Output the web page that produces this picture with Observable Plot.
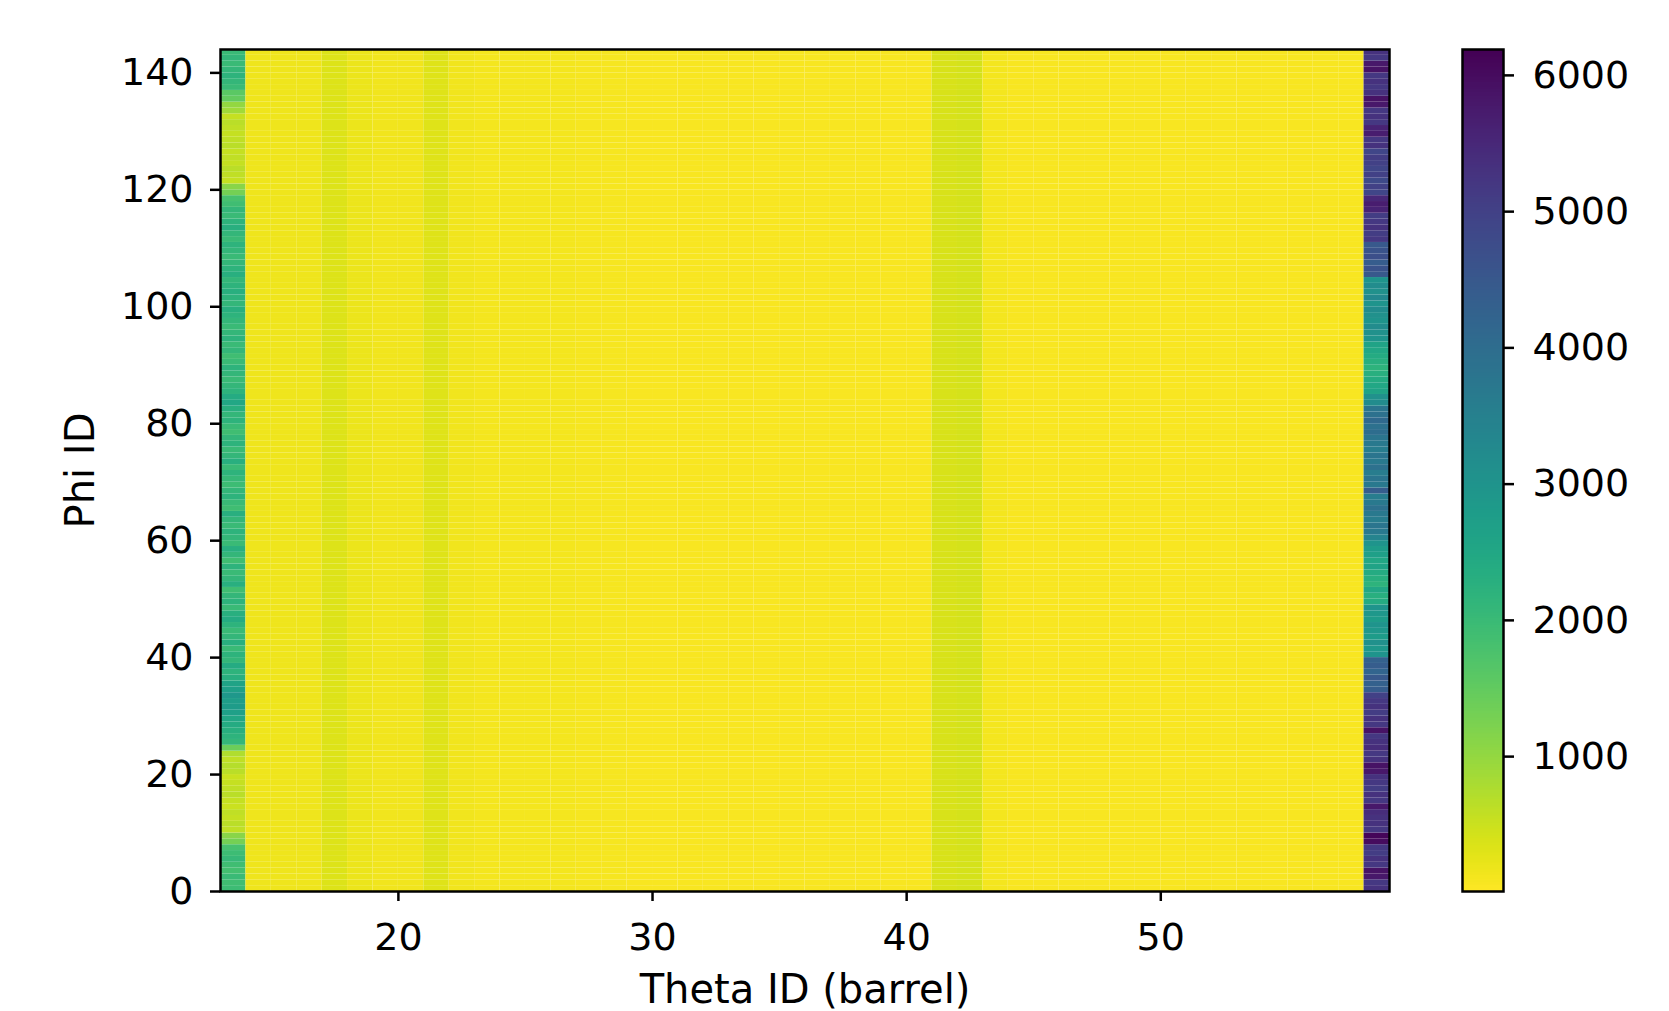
<!DOCTYPE html>
<html>
<head>
<meta charset="utf-8">
<script src="https://cdn.jsdelivr.net/npm/d3@7"></script>
<script src="https://cdn.jsdelivr.net/npm/@observablehq/plot@0.6"></script>
<style>
  html, body { margin: 0; padding: 0; background: #fff; }
  #wrap { position: relative; width: 1669px; height: 1011px; overflow: hidden; background: #fff; }
  #wrap svg { position: absolute; top: 0; }
</style>
</head>
<body>
<div id="wrap"></div>
<script>
// ---- data ----
// Phi IDs (rows) 0..143
const phiIds = d3.range(0, 144);
// Theta IDs of the inner (nearly uniform) columns
const thetaMid = [14,15,16,17,18,19,20,21,22,23,24,25,26,27,28,29,30,31,32,33,34,35,36,37,38,39,40,41,42,43,44,45,46,47,48,49,50,51,52,53,54,55,56,57];
// typical value of each inner column
const midValues = [170,160,170,330,180,150,140,300,150,130,120,130,110,90,85,80,75,75,70,70,65,60,60,60,65,70,75,390,410,110,80,75,70,70,65,65,65,60,60,60,65,70,75,80];
// first barrel column (Theta ID 13), rows 0..143
const leftTheta = 13;
const leftCol = [
  1950,1900,2000,1850,1900,2050,1950,1800,
  1300,1100,
  600,650,550,600,500,550,650,600,550,500,650,700,600,750,
  1400,
  2100,2200,2300,2400,2500,
  2700,2800,2750,2900,2700,2600,
  2300,2200,2400,2100,2200,2000,2300,2100,2000,2200,2400,2300,
  2000,2200,2100,1900,2300,2100,2000,2200,1900,2100,2300,2000,2100,
  2200,2000,2100,2300,1900,2000,2200,2100,1950,2050,2200,2000,
  2300,2100,2000,2200,2100,1900,2000,2200,2100,2300,2500,2400,
  2200,2100,2000,2100,2200,2000,1900,2100,2000,2200,2100,2000,
  2100,2200,2300,2100,2200,2300,2200,2100,2300,2200,2100,2000,
  2100,2200,2000,2100,2300,2200,2000,2100,1900,1800,
  1300,1100,
  550,600,650,550,600,550,650,600,550,600,650,550,
  900,1000,
  1500,1600,
  2000,2100,2200,2100,2000,2100,2000
];
// last barrel column (Theta ID 58), rows 0..143
const rightTheta = 58;
const rightCol = [
  5300,5200,
  5800,5900,
  5200,5300,5100,5200,
  6000,6100,
  5200,5300,
  5300,5400,
  5800,
  5200,5300,5100,5200,5300,
  5800,5900,
  5300,5200,5400,5300,5200,
  5900,
  5200,5300,5100,5300,5200,5000,
  4400,4300,4500,4200,4400,4300,
  3000,2900,3100,2800,2900,3000,2800,2900,3000,
  2400,2300,2500,2200,2300,2400,2600,2500,2700,2800,3000,3400,
  3700,3800,3600,3700,3900,3700,3600,
  4400,
  3700,3800,3600,3900,3700,3800,3600,3700,3800,
  4000,3900,4100,3900,3800,
  3200,3100,
  2600,2500,2400,2300,2200,2300,2400,2500,2600,
  3000,3100,3200,3000,3100,3200,3000,3300,3100,3200,3000,
  4500,4600,4400,4700,4600,4500,
  5200,5100,5300,5200,5100,
  5600,5700,5500,
  4900,5000,4800,5000,4900,5000,5100,4900,
  5300,5200,
  5700,5600,
  5200,5300,5200,
  5800,5900,
  5300,5200,5300,5200,
  5900,5800,
  5200,5300
];
const xTicks = [20, 30, 40, 50];
const yTicks = [0, 20, 40, 60, 80, 100, 120, 140];
const cbTicks = [1000, 2000, 3000, 4000, 5000, 6000];
const colorDomain = [10, 6190];

// ---- build table ----
const cells = [];
phiIds.forEach((phi, i) => {
  cells.push({theta: leftTheta, phi, v: leftCol[i]});
  thetaMid.forEach((t, j) => cells.push({theta: t, phi, v: midValues[j]}));
  cells.push({theta: rightTheta, phi, v: rightCol[i]});
});

const font = {fontFamily: "'DejaVu Sans', sans-serif", fontSize: "38px", color: "#000", background: "transparent", overflow: "visible"};
const colorOpts = {type: "linear", scheme: "viridis", reverse: true, domain: colorDomain, clamp: true};

const main = Plot.plot({
  width: 1669, height: 1011,
  marginLeft: 220, marginRight: 280, marginTop: 49, marginBottom: 120,
  style: font,
  x: {domain: [13, 59]},
  y: {domain: [0, 144]},
  color: colorOpts,
  marks: [
    Plot.rect(cells, {x1: "theta", x2: d => d.theta + 1, y1: "phi", y2: d => d.phi + 1, fill: "v"}),
    Plot.frame({stroke: "#000", strokeWidth: 2.5}),
    Plot.axisX({ticks: xTicks, tickSize: 10, tickPadding: 22, strokeWidth: 2.5, fontSize: 38, label: null}),
    Plot.axisY({ticks: yTicks, tickSize: 10, tickPadding: 17, strokeWidth: 2.5, fontSize: 38, label: null}),
    Plot.axisX({ticks: [], tickSize: 0, fontSize: 40, label: "Theta ID (barrel)", labelAnchor: "center", labelOffset: 111, labelArrow: "none"}),
    Plot.axisY({ticks: [], tickSize: 0, fontSize: 40, label: "Phi ID", labelAnchor: "center", labelOffset: 155, labelArrow: "none"})
  ]
});
main.style.left = "0px";
document.getElementById("wrap").appendChild(main);

const cb = Plot.plot({
  width: 269, height: 1011,
  marginLeft: 62, marginRight: 166, marginTop: 49, marginBottom: 120,
  style: font,
  x: {domain: [0, 1], axis: null},
  y: {domain: colorDomain},
  color: colorOpts,
  marks: [
    Plot.raster({x1: 0, x2: 1, y1: colorDomain[0], y2: colorDomain[1], width: 1, height: 600, fill: (x, y) => y, imageRendering: "auto"}),
    Plot.frame({stroke: "#000", strokeWidth: 2.5}),
    Plot.axisY({anchor: "right", ticks: cbTicks, tickSize: 10, tickPadding: 19, strokeWidth: 2.5, fontSize: 38, label: null, tickFormat: d => String(d)})
  ]
});
cb.style.left = "1400px";
document.getElementById("wrap").appendChild(cb);
</script>
</body>
</html>
